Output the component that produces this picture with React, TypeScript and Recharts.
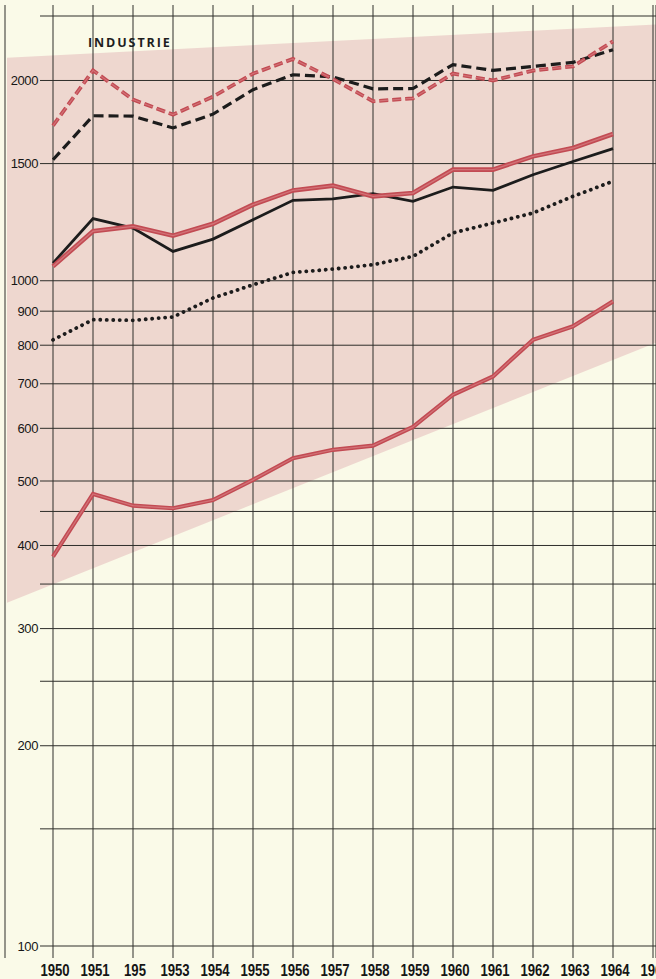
import React from 'react';
import {
  ComposedChart,
  Line,
  Area,
  XAxis,
  YAxis,
  CartesianGrid,
} from 'recharts';

// years plotted
const years = [1950, 1951, 1952, 1953, 1954, 1955, 1956, 1957, 1958, 1959, 1960, 1961, 1962, 1963, 1964];

// series
const redDashed = [1710, 2071, 1872, 1777, 1891, 2048, 2155, 2010, 1861, 1880, 2048, 2000, 2070, 2100, 2290];
const blackDashed = [1520, 1770, 1768, 1697, 1780, 1937, 2040, 2025, 1943, 1945, 2113, 2071, 2100, 2129, 2225];
const redSolid = [1051, 1187, 1207, 1169, 1218, 1301, 1367, 1390, 1339, 1355, 1469, 1469, 1538, 1583, 1662];
const blackSolid = [1063, 1240, 1200, 1107, 1155, 1235, 1321, 1328, 1352, 1316, 1383, 1367, 1443, 1511, 1580];
const blackDotted = [815, 874, 872, 882, 942, 986, 1029, 1041, 1057, 1088, 1180, 1221, 1264, 1339, 1411];
const redLower = [385, 478, 459, 455, 468, 502, 541, 557, 565, 603, 674, 718, 815, 854, 931];

// shaded band (left and right ends)
const bandYears = [1948.85, 1965.075];
const bandLow = [328, 807];
const bandHigh = [2164, 2427];

// axes
const xTicks = [1950, 1951, 1952, 1953, 1954, 1955, 1956, 1957, 1958, 1959, 1960, 1961, 1962, 1963, 1964, 1965];
const xLabels = ['1950', '1951', '195', '1953', '1954', '1955', '1956', '1957', '1958', '1959', '1960', '1961', '1962', '1963', '1964', '1965'];
const yGrid = [100, 150, 200, 250, 300, 350, 400, 450, 500, 600, 700, 800, 900, 1000, 1500, 2000, 2500];
const yLabels = [100, 200, 300, 400, 500, 600, 700, 800, 900, 1000, 1500, 2000];

const RED = '#c24b53';
const RED_HI = '#d27277';
const INK = '#1c1c1c';
const GRID = '#2e2e2a';

const data = [
  { year: bandYears[0], band: [bandLow[0], bandHigh[0]] },
  ...years.map((year, i) => ({
    year,
    redDashed: redDashed[i],
    blackDashed: blackDashed[i],
    redSolid: redSolid[i],
    blackSolid: blackSolid[i],
    blackDotted: blackDotted[i],
    redLower: redLower[i],
  })),
  { year: bandYears[1], band: [bandLow[1], bandHigh[1]] },
];

const YTick = ({ y, payload }: any) => {
  if (!yLabels.includes(payload.value)) return null;
  return (
    <text
      x={38}
      y={y}
      dy={4.6}
      textAnchor="end"
      fill="#161616"
      fontSize={13}
      letterSpacing={-0.4}
      fontFamily="'Liberation Sans', Arial, sans-serif"
    >
      {payload.value}
    </text>
  );
};

const XTick = ({ x, payload }: any) => {
  const label = xLabels[xTicks.indexOf(payload.value)];
  return (
    <text
      x={x + 2}
      y={976}
      textAnchor="middle"
      fill="#151515"
      fontSize={16}
      fontWeight={700}
      textLength={label.length * 7.3}
      lengthAdjust="spacingAndGlyphs"
      fontFamily="'Liberation Sans', Arial, sans-serif"
    >
      {label}
    </text>
  );
};

export default function App() {
  const redLine = (key: string, width: number, dash?: string) => [
    <Line
      key={key + '-base'}
      dataKey={key}
      type="linear"
      stroke={RED}
      strokeWidth={width}
      strokeDasharray={dash}
      dot={false}
      activeDot={false}
      isAnimationActive={false}
    />,
    <Line
      key={key + '-hi'}
      dataKey={key}
      type="linear"
      stroke={RED_HI}
      strokeWidth={width * 0.3}
      strokeDasharray={dash}
      dot={false}
      activeDot={false}
      isAnimationActive={false}
    />,
  ];

  return (
    <div
      style={{
        position: 'absolute',
        left: 0,
        top: 0,
        width: 656,
        height: 979,
        background: '#fafae8',
        overflow: 'hidden',
      }}
    >
      <ComposedChart
        width={656}
        height={979}
        data={data}
        margin={{ top: 16, right: 0, bottom: 0, left: -35 }}
      >
        <Area
          dataKey="band"
          type="linear"
          fill="#eed7cf"
          fillOpacity={1}
          stroke="none"
          connectNulls
          dot={false}
          activeDot={false}
          isAnimationActive={false}
          zIndex={50}
        />
        <CartesianGrid vertical={false} x={40} width={616} stroke={GRID} strokeWidth={1} zIndex={150} />
        <CartesianGrid horizontal={false} y={5} height={953} stroke={GRID} strokeWidth={1} zIndex={150} />
        <XAxis
          dataKey="year"
          type="number"
          domain={[1948.8, 1965.075]}
          ticks={xTicks}
          height={33}
          axisLine={false}
          tickLine={false}
          tick={<XTick />}
          interval={0}
        />
        <YAxis
          scale="log"
          type="number"
          domain={[100, 2500]}
          ticks={yGrid}
          width={40}
          axisLine={false}
          tickLine={false}
          tick={<YTick />}
          interval={0}
        />
        {redLine('redLower', 4.2)}
        <Line
          dataKey="blackDotted"
          type="linear"
          stroke={INK}
          strokeWidth={3.8}
          strokeDasharray="0.1 6.4"
          strokeLinecap="round"
          dot={false}
          activeDot={false}
          isAnimationActive={false}
        />
        <Line
          dataKey="blackSolid"
          type="linear"
          stroke={INK}
          strokeWidth={2.8}
          dot={false}
          activeDot={false}
          isAnimationActive={false}
        />
        {redLine('redSolid', 4.6)}
        <Line
          dataKey="blackDashed"
          type="linear"
          stroke={INK}
          strokeWidth={3.2}
          strokeDasharray="10 5"
          dot={false}
          activeDot={false}
          isAnimationActive={false}
        />
        {redLine('redDashed', 3.8, '9 4')}
      </ComposedChart>
      <div
        style={{
          position: 'absolute',
          left: 88,
          top: 34,
          fontFamily: "'Open Sans', sans-serif",
          fontWeight: 700,
          fontSize: 12.5,
          letterSpacing: 1.9,
          color: '#1e1e1e',
        }}
      >
        INDUSTRIE
      </div>
    </div>
  );
}
